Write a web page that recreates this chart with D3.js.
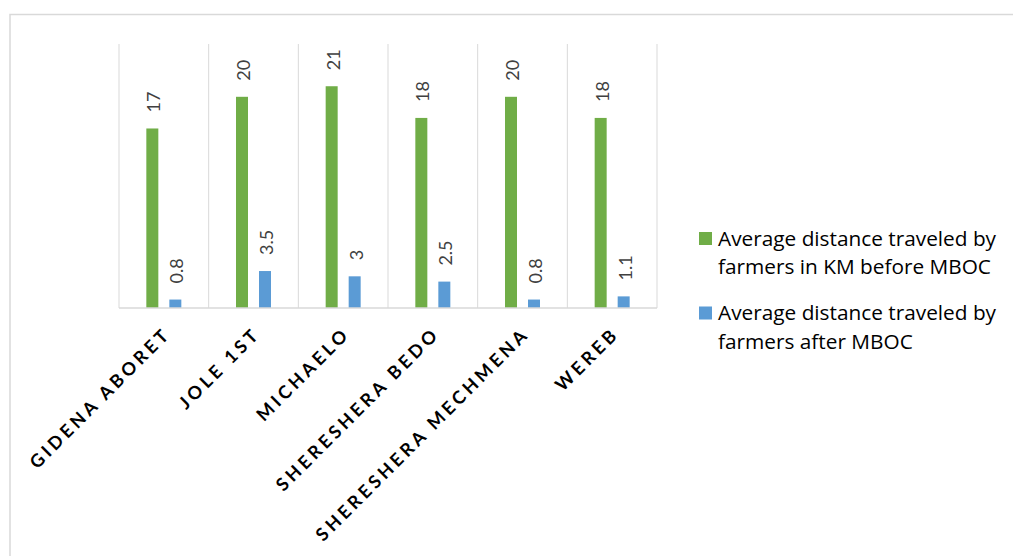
<!DOCTYPE html>
<html>
<head>
<meta charset="utf-8">
<script src="https://cdn.jsdelivr.net/npm/d3@7"></script>
<style>
    html, body { margin: 0; padding: 0; background: #fff; }
    svg { display: block; }
</style>
</head>
<body>
<div id="chart"></div>
<script>
const categories = ['GIDENA ABORET', 'JOLE 1ST', 'MICHAELO', 'SHERESHERA BEDO', 'SHERESHERA MECHMENA', 'WEREB'];
const beforeValues = [17, 20, 21, 18, 20, 18];
const afterValues = [0.8, 3.5, 3, 2.5, 0.8, 1.1];
const seriesNames = [
    ['Average distance traveled by', 'farmers in KM before MBOC'],
    ['Average distance traveled by', 'farmers after MBOC']
];
const seriesColors = ['#70ad47', '#5b9bd5'];

const width = 1013;
const height = 556;
const plot = { left: 119, right: 657, top: 44, bottom: 308 };
const font = 'Lato, "Open Sans", sans-serif';
const legendFont = '"Open Sans", Lato, sans-serif';

const svg = d3.select('#chart')
    .append('svg')
    .attr('width', width)
    .attr('height', height);

// chart frame (runs off the right and bottom edges like the original)
svg.append('rect')
    .attr('x', 10)
    .attr('y', 14.5)
    .attr('width', 1020)
    .attr('height', 560)
    .attr('fill', 'none')
    .attr('stroke', '#d9d9d9')
    .attr('stroke-width', 1.5);

const x = d3.scaleBand()
    .domain(categories)
    .range([plot.left, plot.right]);

const y = d3.scaleLinear()
    .domain([0, 25])
    .range([plot.bottom, plot.top]);

// vertical gridlines at category boundaries
const boundaries = categories.map((c) => x(c)).concat([plot.right]);
svg.append('g')
    .selectAll('line')
    .data(boundaries)
    .join('line')
    .attr('x1', (d) => d)
    .attr('x2', (d) => d)
    .attr('y1', plot.top)
    .attr('y2', plot.bottom)
    .attr('stroke', '#d9d9d9')
    .attr('stroke-width', 1);

const rows = categories.map((c, i) => ({ name: c, values: [beforeValues[i], afterValues[i]] }));
const barWidth = 12;
const barOffset = 11.5;

const groups = svg.append('g')
    .selectAll('g')
    .data(rows)
    .join('g')
    .attr('transform', (d) => `translate(${x(d.name) + x.bandwidth() / 2},0)`);

groups.selectAll('rect')
    .data((d) => d.values.map((v, k) => ({ v, k })))
    .join('rect')
    .attr('x', (d) => (d.k === 0 ? -barOffset : barOffset) - barWidth / 2)
    .attr('y', (d) => y(d.v))
    .attr('width', barWidth)
    .attr('height', (d) => y(0) - y(d.v))
    .attr('fill', (d) => seriesColors[d.k]);

groups.selectAll('text')
    .data((d) => d.values.map((v, k) => ({ v, k })))
    .join('text')
    .attr('transform', (d) => `translate(${(d.k === 0 ? -barOffset : barOffset) + 1},${y(d.v) - 16}) rotate(-90)`)
    .attr('dominant-baseline', 'central')
    .attr('font-family', font)
    .attr('font-size', 18)
    .attr('fill', '#404040')
    .text((d) => d.v);

// horizontal axis line
svg.append('line')
    .attr('x1', plot.left)
    .attr('x2', plot.right)
    .attr('y1', plot.bottom)
    .attr('y2', plot.bottom)
    .attr('stroke', '#d9d9d9')
    .attr('stroke-width', 1.5);

// category labels
svg.append('g')
    .selectAll('text')
    .data(categories)
    .join('text')
    .attr('transform', (d) => `translate(${x(d) + x.bandwidth() / 2 + 8},${plot.bottom + 27}) rotate(-45)`)
    .attr('text-anchor', 'end')
    .attr('font-family', font)
    .attr('font-weight', 'bold')
    .attr('font-size', 18)
    .attr('letter-spacing', 3.6)
    .attr('fill', '#000')
    .text((d) => d);

// legend
const legend = svg.append('g')
    .selectAll('g')
    .data(seriesNames)
    .join('g')
    .attr('transform', (d, i) => `translate(699,${232 + i * 74.5})`);

legend.append('rect')
    .attr('width', 13)
    .attr('height', 13)
    .attr('fill', (d, i) => seriesColors[i]);

legend.append('text')
    .attr('font-family', legendFont)
    .attr('font-size', 20.8)
    .attr('fill', '#000')
    .selectAll('tspan')
    .data((d) => d)
    .join('tspan')
    .attr('x', 19)
    .attr('y', (d, j) => 13.5 + j * 28.5)
    .text((d) => d);
</script>
</body>
</html>
